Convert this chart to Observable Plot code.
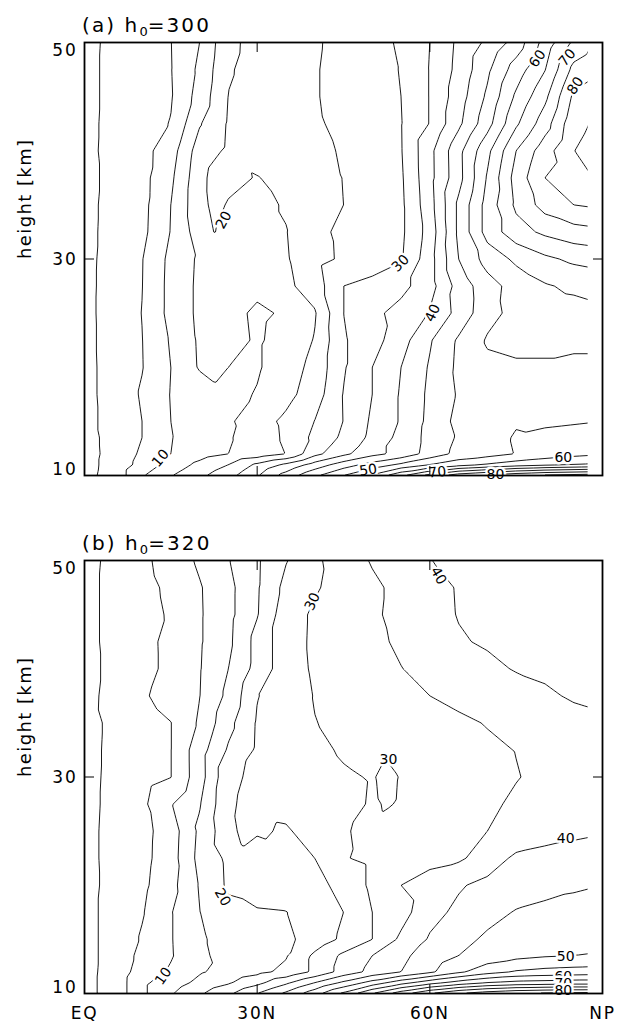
<!DOCTYPE html>
<html><head><meta charset="utf-8">
<script src="https://cdn.jsdelivr.net/npm/d3@7"></script>
<script src="https://cdn.jsdelivr.net/npm/@observablehq/plot@0.6"></script>
<style>
body{margin:0;background:#fff;}
#wrap{position:relative;width:622px;height:1025px;overflow:hidden;font-family:"DejaVu Sans",sans-serif;}
.title{position:absolute;left:82px;font-size:20px;line-height:20px;color:#000;white-space:nowrap;letter-spacing:2.1px;}
.title sub{font-size:13px;vertical-align:-4px;line-height:0;letter-spacing:0;}
.panel{position:absolute;left:0;}
</style></head><body>
<div id="wrap">
  <div id="pa" class="panel" style="top:0px"></div>
  <div id="pb" class="panel" style="top:518px"></div>
  <div class="title" style="top:15px">(a)&nbsp;h<sub>0</sub>=300</div>
  <div class="title" style="top:533px">(b)&nbsp;h<sub>0</sub>=320</div>
</div>
<script>
// grid: latitude (deg N) columns, height (km) rows
const lats = [0,5,10,15,20,25,30,35,40,45,50,55,60,65,70,75,80,85,90];
const heights = [50,47.5,45,42.5,40,37.5,35,32.5,30,27.5,25,22.5,20,17.5,15,13.5,12,11,10];
const levels = [0,5,10,15,20,25,30,35,40,45,50,55,60,65,70,75,80,85,90];
const latDomain = [0,90];
const heightDomain = [10,50];
const dataLatMax = 87.5;   // the contoured data stop short of the pole

// panel (a) h0=300, rows follow `heights`
const fieldA = [
 [-1.1,0.9,2.9,4.9,10,19,21.4,23,24.5,26.3,28.1,30.7,35,41,46,52,62,71,77],
 [-1.0,0.9,2.8,4.8,11,19.6,21.5,23.1,24.7,26.4,28.2,30.2,35.2,41.4,49,57.4,64.8,76.5,80],
 [-1.0,0.9,2.7,4.6,12,20.1,21.6,23.2,24.7,26.4,28.1,30,35.2,42.6,50.9,60.9,68.8,81,84],
 [-1.0,1.0,3.1,5.2,14.6,20.5,21.8,23.1,24.5,25.9,27.9,29.8,35.2,43.9,53.1,64.2,72.7,83.5,86.3],
 [-1.0,1.1,3.3,7.7,17.5,20.8,22.1,23.3,24.2,25.3,27.5,29.7,38.6,48.5,58.7,70,77.8,84.9,87.5],
 [-1.2,1.1,3.4,9,18.4,21,19.8,21.5,23.3,25.1,27.3,29.3,38.5,48.3,60.5,72,80,83,86],
 [-1.2,1.3,3.5,10,18.5,19.7,18.5,20.5,23.2,25,26.5,29,38,51,62,71,77,80,81],
 [-1.2,1.4,3.7,10.2,17.5,19.6,18.5,19.8,24,25.8,27.2,29,37,51,62,68,71,73,74],
 [-1.2,1.6,4.8,11.3,15.8,17.1,18.2,19.5,23.5,25.7,27.4,29.5,38,50,57,61,64,66,67],
 [-1.2,1.7,4.9,11.5,16,16.5,16,18.9,22.4,30,31.5,33.5,38,47,53,57,59.5,61,62],
 [-1.2,1.8,5.1,11.5,16,16.3,14.3,15.5,19.5,30,33.7,36.8,40.4,46.6,53.4,56.5,57.5,58,58.5],
 [-1.2,1.7,4.9,10.5,15.7,16.5,14.5,16.5,20.3,29.5,33,38,44.5,50.7,55.5,56,56,56,56],
 [-1.3,1.7,4.8,10,15.5,15,14.5,17.5,21.5,29.5,35,40,45.5,51,54,54.5,54.5,54,54],
 [-1.3,1.7,5.5,10.2,12,13.6,15.3,18.5,22.5,30.2,35,40.5,46,50.5,53,53.5,53,52.5,52],
 [-1.3,1.5,5,10,12.3,14.2,18,21,25.1,30.1,35.8,40.5,46.3,51.5,54,54.5,54,54.5,55],
 [-1.3,1.2,5,9.8,12.5,14.6,17.1,20.8,26.2,31,36.3,41.6,46.5,50.6,52.8,55.5,56.5,57,57.5],
 [-1.3,1.1,5.9,10,13,15,17,20.1,28.5,33.8,38.5,41.6,47,51.5,53,55.2,57,58.5,59.5],
 [-1.3,1.3,6.8,12,16.3,20,26,31,37,42.5,47,51,55,58,60.5,62.5,64,65,66],
 [-1.1,1.4,9.5,14.7,18.9,23.2,29.5,37,44,50,56,64,72,78,81,84,86,87,88]
];
// extra samples of panel (a): the notch of the 20 contour and the bottom of the 15 contour
const extraLatA = [22.5,22.5,22.5,22.5,22.5];
const extraHA   = [37.5,35,32.5,20,18.75];
const extraVA   = [21.5,21,20.05,16,15.2];

// panel (b) h0=320
const fieldB = [
 [-1.4,1.1,4.0,6.9,10.8,14.7,19.4,24.7,29.1,32.4,35.4,37.6,39.9,41,42,42.8,43.5,44,44.5],
 [-1.2,1.1,3.6,5.9,9.6,13.6,19.5,26.5,29.5,31.9,34.1,36.3,38.5,40.3,41.3,42.2,42.8,43.3,43.7],
 [-1.2,1.1,3.4,5.5,9.5,13.6,19.7,27.9,30.7,32.5,34.3,36.3,38.3,40.2,41,41.8,42.3,42.7,43],
 [-1.2,1.1,3.3,6.4,9.5,13.9,21.7,27.9,30.8,32.4,34,35.7,37.8,39.6,40.5,41,41.5,42,42.3],
 [-1.4,1.1,3.2,6.4,9.7,15,21.7,27.9,30.6,32,33.5,34.9,36.3,37.6,39,40.3,41,41.5,42],
 [-1.4,1.4,4.3,7.1,9.9,16.2,24.8,27.4,30.2,31.2,32.3,33.8,35,36,37,38.1,39.2,40.6,41.3],
 [-1.3,0.8,2.8,4.9,10.7,18.5,25.5,27.7,29.9,30.8,31.7,32.6,33.5,34.3,35.2,36.3,37.3,38.2,39],
 [-1.3,0.9,2.8,4.9,12.9,20.6,25.7,27.1,29,30.5,31.3,32.1,32.9,33.6,34.3,35.1,36.2,37.1,38],
 [-1.2,0.9,2.8,4.9,12.8,23.9,26.1,27.2,28.3,29.5,30.25,30.2,30.8,32.1,33.4,34.8,36,37,38],
 [-1.2,1,3.9,9.6,14.6,24.2,26,26.4,27.4,28.7,30.4,30.3,31.5,32.8,34.2,35.7,37,38.2,39],
 [-1.1,1.1,3.4,7.5,16,23.4,25.6,24.5,26.8,29.8,30.6,31.5,32.6,33.8,35,36.3,37.6,38.7,39.5],
 [-1.1,1.1,3.5,7.8,16.5,21,22.3,23.6,25,29.7,31,32.1,33.2,34.2,37.3,41,42,42.5,43],
 [-1.1,1,3.9,8.4,15.4,20.8,21.5,22.3,23.5,26.5,31,35,37.5,39.5,41.3,42.7,43.7,44.5,45],
 [-1.1,1.2,4.6,9.7,14.9,18.5,19.7,19.9,21.5,25,30,33,38.5,41,43.5,45.3,46,46.3,46.5],
 [-1.1,1.2,5.5,9.7,14.1,17.5,18,19,22,26,30,36,40.5,43.5,45.8,47.5,48.3,48.7,49],
 [-1.1,1.2,6.5,9.6,13.6,17.5,19,19.6,26,31,35,39,42,45,47,48.5,49.5,50,50.3],
 [-1.1,1.3,7.5,10.6,14.5,16.7,18.7,21.2,26,32,36.5,40,44,49,53,55.5,56.5,57,57.5],
 [-1.1,1.4,9,12.5,16.3,19.4,23.5,29,35,41,47,53,58,62,65,66.5,67,67.5,67.5],
 [-1.1,1.4,9,14.5,19.3,24,30,36,43,51,60,68,75,80,83,85,86,86.5,87]
];
// extra samples of panel (b): the small closed 30 contour and the dip of the 25 contour
const extraLatB = [52.5,52.5,52.5,52.5,27.5,27.5,27.5];
const extraHB   = [31.0,30.0,28.75,27.5,27.5,25,23.75];
const extraVB   = [29.6,29.2,29.4,29.75,25.6,26,25.3];

// contour labels: latitude, height, text, angle
const labelsA = [
 {lat:13.2,h:11.6,t:"10",r:-50},
 {lat:24.2,h:33.6,t:"20",r:-62},
 {lat:54.9,h:29.6,t:"30",r:-45},
 {lat:60.5,h:25.0,t:"40",r:-65},
 {lat:49.3,h:10.5,t:"50",r:-8},
 {lat:61.3,h:10.3,t:"70",r:-5},
 {lat:71.4,h:10.1,t:"80",r:0},
 {lat:83.2,h:11.7,t:"60",r:0},
 {lat:78.7,h:48.5,t:"60",r:-55},
 {lat:83.9,h:48.6,t:"70",r:-50},
 {lat:85.3,h:46.0,t:"80",r:-55}
];
const labelsB = [
 {lat:13.7,h:11.6,t:"10",r:-55},
 {lat:24.0,h:18.9,t:"20",r:60},
 {lat:39.6,h:46.2,t:"30",r:-65},
 {lat:52.8,h:31.6,t:"30",r:0},
 {lat:61.5,h:48.6,t:"40",r:60},
 {lat:83.6,h:24.3,t:"40",r:0},
 {lat:83.6,h:13.4,t:"50",r:0},
 {lat:83.2,h:11.6,t:"60",r:0},
 {lat:83.2,h:10.9,t:"70",r:0},
 {lat:83.2,h:10.3,t:"80",r:0}
];

const xTicks = [0,30,60,90];
const xTickLabels = ["EQ","30N","60N","NP"];
const innerXTicks = [30,60];
const innerYTicks = [30];

function toPoints(field, eLat=[], eH=[], eV=[]){
  const pts = heights.flatMap((h,i)=>lats.map((lat,j)=>({lat,h,v:field[i][j]})));
  eLat.forEach((lat,k)=>pts.push({lat,h:eH[k],v:eV[k]}));
  return pts;
}

function panel(points, labels, showX, height, marginBottom){
  const marks = [
    Plot.contour(points, {x:"lat", y:"h", value:"v", interpolate:"barycentric",
      thresholds: levels, stroke:"#000", strokeWidth:0.9, fill:"none", clip:true, pixelSize:1}),
    // blank strip where the source data end (beyond dataLatMax)
    Plot.rect([dataLatMax], {x1:d=>d, x2:latDomain[1], y1:heightDomain[0], y2:heightDomain[1], fill:"#fff"}),
    Plot.text(labels, {x:"lat", y:"h", text:"t", rotate:"r", fontSize:14, fill:"#000",
      stroke:"#fff", strokeWidth:5, fontFamily:"DejaVu Sans"}),
    Plot.frame({stroke:"#000", strokeWidth:1.8}),
    Plot.axisY([50], {anchor:"left", tickSize:0, tickPadding:7, fontSize:17, label:null, dy:8}),
    Plot.axisY([30], {anchor:"left", tickSize:0, tickPadding:7, fontSize:17, label:null, dy:1}),
    Plot.axisY([10], {anchor:"left", tickSize:0, tickPadding:7, fontSize:17, label:null, dy:-6}),
    Plot.axisY(innerYTicks, {anchor:"left", tickSize:-10, tickFormat:()=>"", label:null}),
    Plot.axisY(innerYTicks, {anchor:"right", tickSize:-10, tickFormat:()=>"", label:null}),
    Plot.axisX(innerXTicks, {anchor:"bottom", tickSize:-9, tickFormat:()=>"", label:null}),
    Plot.axisX(innerXTicks, {anchor:"top", tickSize:-9, tickFormat:()=>"", label:null}),
    Plot.text(["height [km]"], {frameAnchor:"left", dx:-59, rotate:-90, fontSize:18, fill:"#000"})
  ];
  if (showX) marks.push(Plot.axisX(xTicks, {anchor:"bottom", tickSize:0, tickPadding:13, fontSize:17,
      tickFormat:(d)=>xTickLabels[xTicks.indexOf(d)], label:null}));
  const svg = Plot.plot({
    width:622, height, marginLeft:84, marginRight:20, marginTop:42, marginBottom,
    style:{fontFamily:"DejaVu Sans", color:"#000", background:"#fff"},
    x:{domain:latDomain}, y:{domain:heightDomain},
    marks
  });
  svg.querySelectorAll('g[aria-label="y-axis tick label"] text, g[aria-label="x-axis tick label"] text')
     .forEach(t=>{t.style.letterSpacing="1.8px";});
  svg.querySelectorAll('text').forEach(t=>{ if (t.textContent==="height [km]") t.style.letterSpacing="1.4px"; });
  return svg;
}

document.getElementById("pa").appendChild(panel(toPoints(fieldA, extraLatA, extraHA, extraVA), labelsA, false, 500, 25));
document.getElementById("pb").appendChild(panel(toPoints(fieldB, extraLatB, extraHB, extraVB), labelsB, true, 507, 32));
</script>
</body></html>
